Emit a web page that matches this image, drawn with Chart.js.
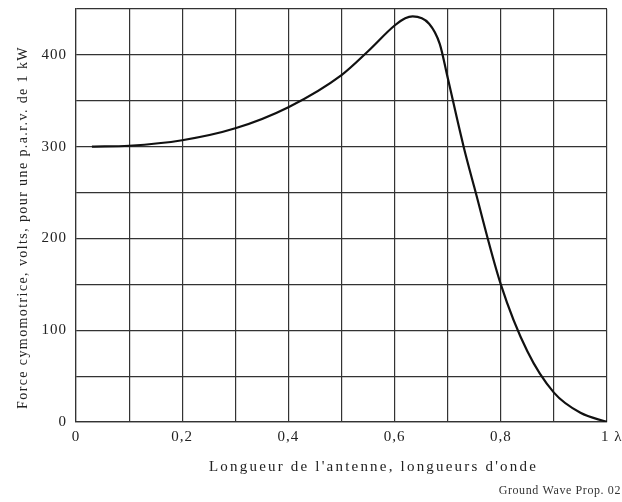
<!DOCTYPE html>
<html>
<head>
<meta charset="utf-8">
<script src="https://cdn.jsdelivr.net/npm/chart.js@4/dist/chart.umd.min.js"></script>
<style>
  html, body { margin: 0; padding: 0; background: #fff; }
</style>
</head>
<body>
<canvas id="myChart" width="622" height="502"></canvas>
<script>
// longueur de l'antenne (longueurs d'onde) et force cymomotrice (V)
const longueurs = [0.03, 0.1, 0.2, 0.3, 0.4, 0.5, 0.55, 0.6, 0.62, 0.634, 0.665, 0.685, 0.7, 0.73, 0.75, 0.8, 0.85, 0.9, 0.95, 1.0];
const forces = [300, 301, 307, 320, 343, 378, 404, 432, 440, 442, 434, 412, 375, 300, 256, 150, 77, 32, 10, 0];
const xLabels = ['0', '', '0,2', '', '0,4', '', '0,6', '', '0,8', '', '  1 λ'];
const yLabels = [0, 100, 200, 300, 400];

const ctx = document.getElementById('myChart');
const serif = "'Liberation Serif', 'Times New Roman', serif";
const gridColor = '#333';

// espacement des lettres comme sur l'original
const espacement = {
  id: 'espacement',
  beforeDraw(chart) { chart.ctx.letterSpacing = '1px'; },
  afterLayout(chart) {
    const sx = chart.scales.x, sy = chart.scales.y;
    if (sx._wrapped) return;
    sx._wrapped = true;
    const ox = sx.drawTitle, oy = sy.drawTitle;
    sx.drawTitle = function () {
      const c = this.ctx;
      c.save();
      c.letterSpacing = '2.2px';
      c.translate(32, 0);
      ox.apply(this, arguments);
      c.restore();
    };
    sy.drawTitle = function () {
      const c = this.ctx;
      c.save();
      c.letterSpacing = '1.4px';
      c.translate(0, 12);
      oy.apply(this, arguments);
      c.restore();
    };
  }
};

const noteBas = {
  id: 'noteBas',
  afterDraw(chart) {
    const c = chart.ctx;
    c.save();
    c.letterSpacing = '0.6px';
    c.font = "12px " + serif;
    c.fillStyle = '#333';
    c.textAlign = 'right';
    c.textBaseline = 'middle';
    c.fillText('Ground Wave Prop. 02', 621, 491);
    c.restore();
  }
};

new Chart(ctx, {
  type: 'line',
  data: {
    datasets: [{
      data: longueurs.map((x, i) => ({ x: x, y: forces[i] })),
      borderColor: '#111',
      borderWidth: 2.2,
      pointRadius: 0,
      fill: false,
      cubicInterpolationMode: 'monotone'
    }]
  },
  options: {
    responsive: false,
    animation: false,
    devicePixelRatio: 1,
    layout: { padding: { top: 9, right: 15, left: 0, bottom: 0 } },
    plugins: { legend: { display: false }, tooltip: { enabled: false } },
    scales: {
      x: {
        type: 'linear',
        min: 0,
        max: 1,
        afterFit(scale) { scale.height = 80; scale.paddingRight = 0; scale.paddingLeft = 0; },
        grid: { color: gridColor, lineWidth: 1.2, drawTicks: false },
        border: { color: gridColor, width: 1.2 },
        ticks: {
          stepSize: 0.1,
          autoSkip: false,
          maxRotation: 0,
          padding: 6,
          color: '#222',
          font: { family: serif, size: 15 },
          callback: (v, i) => xLabels[i]
        },
        title: {
          display: true,
          text: "Longueur de l'antenne, longueurs d'onde",
          color: '#222',
          font: { family: serif, size: 15 },
          padding: { top: 4, bottom: 26 }
        }
      },
      y: {
        min: 0,
        max: 450,
        afterFit(scale) { scale.width = 76; scale.paddingTop = 0; },
        grid: { color: gridColor, lineWidth: 1.2, drawTicks: false },
        border: { color: gridColor, width: 1.2 },
        ticks: {
          stepSize: 50,
          padding: 9,
          color: '#222',
          font: { family: serif, size: 15 },
          callback: v => yLabels.includes(v) ? String(v) : ''
        },
        title: {
          display: true,
          text: 'Force cymomotrice, volts, pour une p.a.r.v. de 1 kW',
          color: '#222',
          font: { family: serif, size: 14 },
          padding: { top: 15, bottom: 4 }
        }
      }
    }
  },
  plugins: [espacement, noteBas]
});
</script>
</body>
</html>
